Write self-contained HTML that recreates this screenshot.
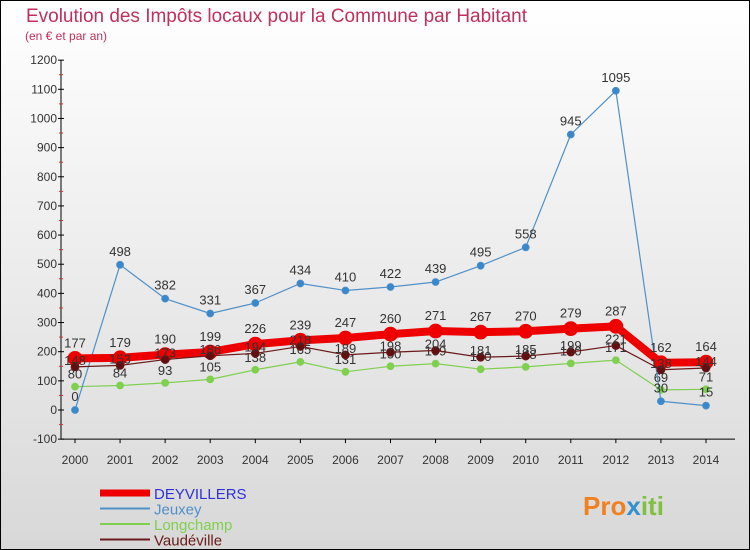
<!DOCTYPE html>
<html><head><meta charset="utf-8"><style>
body{margin:0;}
svg{display:block;font-family:"Liberation Sans","DejaVu Sans",sans-serif;}
</style></head><body>
<svg id="c" width="750" height="550">
<defs><linearGradient id="bg" x1="0" y1="0" x2="0" y2="1"><stop offset="0" stop-color="#ffffff"/><stop offset="1" stop-color="#d8d8d8"/></linearGradient></defs>
<rect x="0.5" y="0.5" width="749" height="549" fill="url(#bg)" stroke="#000"/>
<text x="26" y="22" font-size="19" fill="#c0305a" textLength="501" lengthAdjust="spacingAndGlyphs">Evolution des Impôts locaux pour la Commune par Habitant</text>
<text x="25" y="40" font-size="12" fill="#c0305a">(en € et par an)</text>
<g id="axes"></g><g id="series"></g><g id="legend"></g>
<text x="583" y="515" font-size="26" font-weight="bold" fill="#f08020">Pro<tspan fill="#3090d0">x</tspan><tspan fill="#80c040">iti</tspan></text>
</svg>
<script>
const years=[2000,2001,2002,2003,2004,2005,2006,2007,2008,2009,2010,2011,2012,2013,2014];
const yTicks=[-100,0,100,200,300,400,500,600,700,800,900,1000,1100,1200];
const deyvillers=[177,179,190,199,226,239,247,260,271,267,270,279,287,162,164];
const jeuxey=[0,498,382,331,367,434,410,422,439,495,558,945,1095,30,15];
const longchamp=[80,84,93,105,138,165,131,150,159,140,148,160,171,69,71];
const vaudeville=[148,153,173,186,194,218,189,198,204,181,185,199,221,138,144];
const NS="http://www.w3.org/2000/svg";
const X=i=>75+i*(631/14);
const Y=v=>410-v*(379/1300);
function mk(t,a,p){const e=document.createElementNS(NS,t);for(const k in a)e.setAttribute(k,a[k]);p.appendChild(e);return e;}
const ax=document.getElementById('axes');
let l=mk('line',{x1:61,y1:Y(1200),x2:61,y2:Y(-100),stroke:'#000'},ax);


l=mk('line',{x1:61,y1:Y(-100),x2:735,y2:Y(-100),stroke:'#000'},ax);


yTicks.forEach(v=>{
  mk('line',{x1:58,y1:Y(v),x2:64,y2:Y(v),stroke:'#000'},ax);
  if(v<1200) mk('line',{x1:59,y1:Y(v+50),x2:63,y2:Y(v+50),stroke:'#e03030'},ax);
  const t=mk('text',{x:57,y:Y(v)+4,'font-size':12,'text-anchor':'end',fill:'#333'},ax);
  t.textContent=v;
  
  
});
years.forEach((y,i)=>{
  mk('line',{x1:X(i),y1:Y(-100),x2:X(i),y2:Y(-100)+4,stroke:'#000'},ax);
  const t=mk('text',{x:X(i),y:464,'font-size':12,'text-anchor':'middle',fill:'#333'},ax);
  t.textContent=y;
  
  
});
const sg=document.getElementById('series');
function draw(name,data,color,w,r,dot,labelDy){
  const g=mk('g',{},sg);
  
  
  mk('polyline',{points:data.map((v,i)=>X(i)+','+Y(v)).join(' '),fill:'none',stroke:color,'stroke-width':w,'stroke-linejoin':'round'},g);
  data.forEach((v,i)=>{
    const c=mk('circle',{cx:X(i),cy:Y(v),r:r,fill:dot,stroke:color,'stroke-width':0.8},g);
    
    
    const t=mk('text',{x:X(i),y:Y(v)+labelDy,'font-size':13,'text-anchor':'middle',fill:'#333'},g);
    t.textContent=v;
    
    
  });
}
draw('longchamp',longchamp,'#80d050',1.2,3.5,'#80d050',-8);
draw('jeuxey',jeuxey,'#5090c8',1.2,3.5,'#3a88cc',-9);
draw('deyvillers',deyvillers,'#ee0000',8,7,'#ee0000',-11);
draw('vaudeville',vaudeville,'#6a1a1a',1.2,4,'#601010',-2);
const lg=document.getElementById('legend');
const items=[['DEYVILLERS','#ee0000',7,'#3030dd'],['Jeuxey','#5090c8',2,'#5090c8'],['Longchamp','#80d050',2,'#80d050'],['Vaudéville','#6a1a1a',2,'#6a1a1a']];
items.forEach((it,i)=>{
  const y=493+i*15.5;
  const g=mk('g',{},lg);
  
  
  mk('line',{x1:100,y1:y,x2:150,y2:y,stroke:it[1],'stroke-width':it[2]},g);
  const t=mk('text',{x:154,y:y+6,'font-size':15,fill:it[3]},g);
  t.textContent=it[0];
});
</script>
</body></html>
